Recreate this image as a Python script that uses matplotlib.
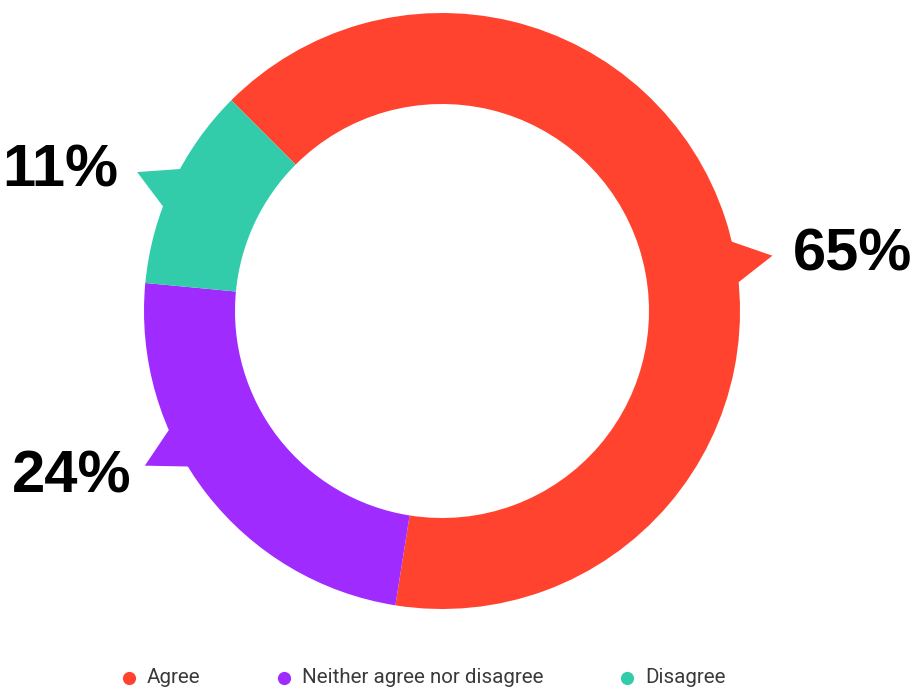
import numpy as np
import matplotlib.pyplot as plt
from matplotlib.patches import Polygon

# Survey response shares (percent)
categories = ['Agree', 'Neither agree nor disagree', 'Disagree']
shares = [65, 24, 11]
colors = ['#FF432E', '#A02BFF', '#33CCAA']

# Layout, in pixel units of the canvas
W, H = 921, 691
cx, cy = 442, H - 311
r_out, ring = 298, 91
start = 135
# where each callout sits on the ring (degrees), which side its text goes,
# and how far the text sits from the pointer tip
callout_angle = [9.5, 207.5, 155.5]
callout_side = ['left', 'right', 'right']
text_dx = [20, -13, -19]
text_dy = [1, -11, 1]


def main():
    fig = plt.figure(figsize=(W / 100, H / 100), dpi=100)
    ax = fig.add_axes([0, 0, 1, 1])

    ax.pie(shares, colors=colors, startangle=start, counterclock=False,
           radius=r_out, center=(cx, cy),
           wedgeprops=dict(width=ring, linewidth=0))

    # Triangular pointers from the ring to each percentage label
    for i, val in enumerate(shares):
        a = np.deg2rad(callout_angle[i])
        half = np.deg2rad(4.2)
        p1 = (cx + (r_out - 2) * np.cos(a - half), cy + (r_out - 2) * np.sin(a - half))
        p2 = (cx + (r_out - 2) * np.cos(a + half), cy + (r_out - 2) * np.sin(a + half))
        tip = (cx + 335 * np.cos(a), cy + 335 * np.sin(a))
        ax.add_patch(Polygon([p1, tip, p2], closed=True, color=colors[i], lw=0))

        ax.text(tip[0] + text_dx[i], tip[1] + text_dy[i], f'{val}%',
                ha=callout_side[i], va='center', fontsize=43, fontweight='bold',
                family=['Liberation Sans', 'DejaVu Sans'], color='black')

    # Legend row along the bottom
    legend_x = [129, 284, 627]
    ly = H - 677.5
    for i, name in enumerate(categories):
        ax.plot(legend_x[i], ly, 'o', ms=9.5, color=colors[i], mec='none')
        ax.text(legend_x[i] + 18, ly, name, ha='left', va='center',
                fontsize=14.8, family=['Roboto', 'DejaVu Sans'],
                color='#3a3a3a')

    ax.set_xlim(0, W)
    ax.set_ylim(0, H)
    ax.set_aspect('auto')
    ax.set_axis_off()
    fig.savefig('out.png', dpi=100, facecolor='white')


if __name__ == '__main__':
    main()
